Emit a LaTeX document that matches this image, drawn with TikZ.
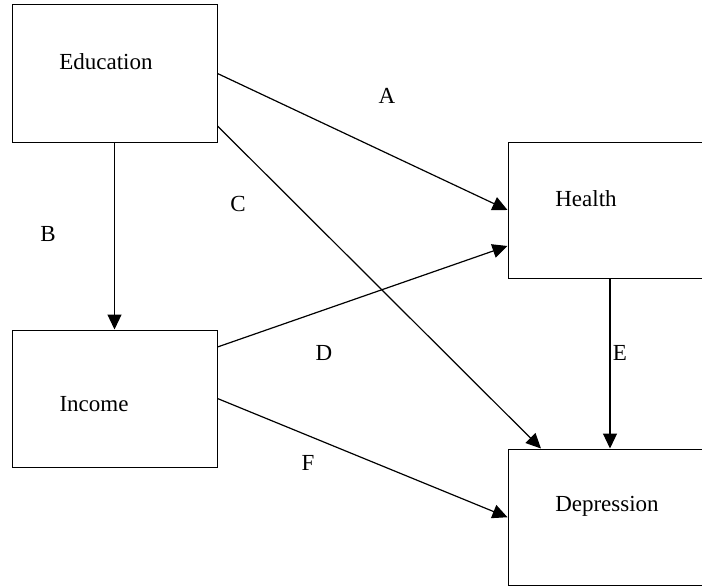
\documentclass[tikz,border=0pt]{standalone}
\usepackage{fontspec}
\setmainfont{Liberation Serif}
\newfontfamily\diafont{Liberation Serif}
\usetikzlibrary{arrows.meta}
\begin{document}
\begin{tikzpicture}[x=1pt,y=-1pt,
  box/.style={draw=black, line width=1pt, inner sep=0pt, minimum width=#1},
  txt/.style={font=\diafont\fontsize{23}{27}\selectfont, inner sep=0pt},
  conn/.style={draw=black, line width=1.2pt, -{Triangle[length=15pt,width=14pt]}},
]
\useasboundingbox (0,0) rectangle (702,586);
\clip (0,0) rectangle (702,586);
\node[box=205pt, minimum height=137pt] (edu) at (114.5,73.5) {};
\node[box=205pt, minimum height=137pt] (inc) at (114.5,398.5) {};
\node[box=204pt, minimum height=136pt] (hea) at (610,210) {};
\node[box=204pt, minimum height=136.5pt] (dep) at (610,517.25) {};

\node[txt] (tedu) at (106,62) {Education};
\node[txt] (tinc) at (94,404) {Income};
\node[txt] (thea) at (586,199) {Health};
\node[txt] (tdep) at (607,506) {Depression};

\draw[conn] (edu.east) -- (hea.west);
\draw[conn] ([yshift=-52.5pt]edu.east) -- ([xshift=-69pt]dep.north);
\draw[conn] (edu.south) -- (inc.north);
\draw[conn] ([yshift=51.5pt]inc.east) -- ([yshift=-36pt]hea.west);
\draw[conn] (inc.east) -- (dep.west);
\draw[conn] (hea.south) -- (dep.north);

\node[txt] (la) at (387,96) {A};
\node[txt] (lb) at (48,234) {B};
\node[txt] (lc) at (238,204) {C};
\node[txt] (ld) at (324,353) {D};
\node[txt] (le) at (620,353) {E};
\node[txt] (lf) at (308,463) {F};
\end{tikzpicture}
\end{document}
